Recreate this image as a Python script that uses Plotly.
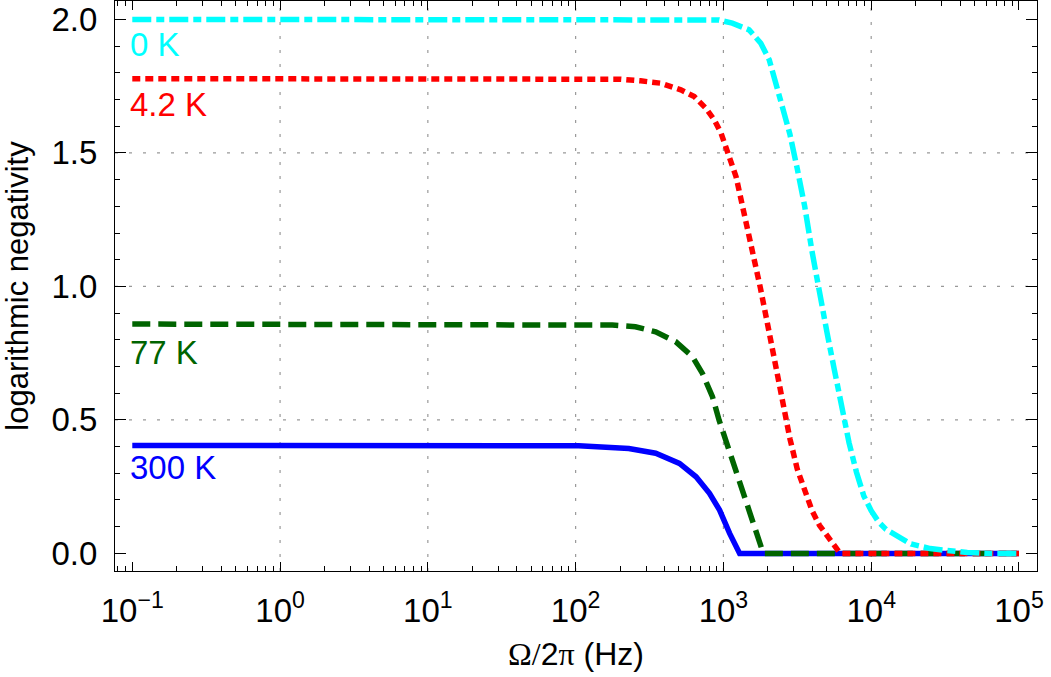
import plotly.graph_objects as go

# Logarithmic negativity vs. mechanical frequency, for four bath temperatures
# values

f_300K = [0.1, 1, 10, 50, 105, 229, 348, 504, 653, 805, 942, 1102, 1288, 100000]
ln_300K = [0.404, 0.404, 0.404, 0.404, 0.403, 0.393, 0.375, 0.337, 0.287, 0.225, 0.162, 0.075, 0.0, 0.0]

f_77K = [0.1, 1, 10, 60, 177, 254, 348, 475, 617, 721, 843, 935, 1094, 1279, 1493, 1746, 1862, 100000]
ln_77K = [0.859, 0.859, 0.859, 0.859, 0.855, 0.849, 0.830, 0.793, 0.737, 0.674, 0.587, 0.499, 0.387,
          0.275, 0.162, 0.050, 0.0, 0.0]

f_4K = [0.1, 1, 10, 100, 200, 275, 378, 515, 635, 762, 869, 964, 1042, 1127, 1219, 1318, 1585, 1778,
        1995, 2239, 2512, 2818, 3162, 3548, 3981, 4467, 5012, 5623, 6166, 100000]
ln_4K = [1.778, 1.778, 1.778, 1.778, 1.776, 1.770, 1.761, 1.736, 1.711, 1.667, 1.623, 1.574, 1.523,
         1.470, 1.410, 1.324, 1.130, 0.995, 0.855, 0.710, 0.565, 0.430, 0.315, 0.230, 0.160, 0.105,
         0.065, 0.033, 0.0, 0.0]

f_0K = [0.1, 1, 10, 100, 500, 933, 1148, 1493, 1791, 2042, 2512, 2818, 3162, 3548, 3981, 4467, 5012,
        5623, 6310, 7079, 7943, 8913, 10000, 11220, 12589, 14454, 18621, 25119, 31623, 44668, 63096,
        100000]
ln_0K = [2.0, 2.0, 2.0, 2.0, 2.0, 1.998, 1.986, 1.961, 1.911, 1.849, 1.670, 1.570, 1.440, 1.300,
         1.130, 0.970, 0.830, 0.690, 0.545, 0.415, 0.305, 0.215, 0.160, 0.118, 0.090, 0.069, 0.035,
         0.018, 0.010, 0.003, 0.0, 0.0]

labels = ["300 K", "77 K", "4.2 K", "0 K"]
label_y = [0.323, 0.754, 1.683, 1.905]
colors = ["#0000FF", "#006400", "#FF0000", "#00FFFF"]
dashes = ["solid", "18px,8px", "8px,5px", "19px,5px,8px,5px"]

x_ticks = [0.1, 1, 10, 100, 1000, 10000, 100000]
x_ticktext = ["10<sup>\u22121</sup>", "10<sup>0</sup>", "10<sup>1</sup>", "10<sup>2</sup>",
              "10<sup>3</sup>", "10<sup>4</sup>", "10<sup>5</sup>"]
x_minor = [k * 10.0 ** n for n in range(-2, 5) for k in range(2, 10)]
x_grid = [1, 10, 100, 1000, 10000]
y_ticks = [0.0, 0.5, 1.0, 1.5, 2.0]
y_ticktext = ["0.0", "0.5", "1.0", "1.5", "2.0"]
y_grid = [0.5, 1.0, 1.5]

FONT = "Liberation Sans, Arial, sans-serif"
SERIF = "Liberation Serif"

fig = go.Figure()
series = [(f_300K, ln_300K), (f_77K, ln_77K), (f_4K, ln_4K), (f_0K, ln_0K)]
for (fx, fy), name, c, d in zip(series, labels, colors, dashes):
    fig.add_trace(go.Scatter(x=fx, y=fy, mode="lines", name=name,
                             line=dict(color=c, width=5.5, dash=d)))

for name, yv, c in zip(labels, label_y, colors):
    fig.add_annotation(x=-1, y=yv, xref="x", yref="y", text=name, showarrow=False,
                       xanchor="left", yanchor="middle", xshift=-4,
                       font=dict(family=FONT, size=33, color=c))

# dotted grid only at the inner decades / inner half-units
for gx in x_grid:
    fig.add_shape(type="line", xref="x", yref="paper", x0=gx, x1=gx, y0=0, y1=1,
                  line=dict(color="#999999", width=1.2, dash="3px,11px"), layer="below")
for gy in y_grid:
    fig.add_shape(type="line", xref="paper", yref="y", x0=0, x1=1, y0=gy, y1=gy,
                  line=dict(color="#999999", width=1.2, dash="3px,11px"), layer="below")

fig.update_layout(
    width=1051, height=677,
    margin=dict(l=115, r=14, t=1, b=106),
    paper_bgcolor="white", plot_bgcolor="white",
    showlegend=False,
    font=dict(family=FONT, size=32, color="black"),
    xaxis=dict(
        type="log", range=[-1.117, 5.122], automargin=False,
        tickmode="array", tickvals=x_ticks, ticktext=x_ticktext,
        ticks="inside", ticklen=9, tickwidth=1, tickcolor="black",
        minor=dict(tickmode="array", tickvals=x_minor, ticks="inside", ticklen=5,
                   tickcolor="black", showgrid=False),
        showline=True, linecolor="black", linewidth=1, mirror="allticks",
        showgrid=False, zeroline=False,
        tickfont=dict(size=33), ticklabelstandoff=10,
        title=dict(text="<span style='font-family:" + SERIF + "'>\u03a9/</span>2"
                        "<span style='font-family:" + SERIF + "'>\u03c0</span> (Hz)",
                   font=dict(size=32), standoff=15),
    ),
    yaxis=dict(
        range=[-0.066, 2.069], automargin=False,
        tickmode="array", tickvals=y_ticks, ticktext=y_ticktext,
        ticks="inside", ticklen=11, tickwidth=1, tickcolor="black",
        minor=dict(dtick=0.1, ticks="inside", ticklen=5, tickcolor="black", showgrid=False),
        showline=True, linecolor="black", linewidth=1, mirror="allticks",
        showgrid=False, zeroline=False,
        tickfont=dict(size=33), ticklabelstandoff=10,
        title=dict(text="logarithmic negativity", font=dict(size=31), standoff=14),
    ),
)

# page has an 8px body margin by default; drop it so the figure sits at the window origin
fig.write_html("out.html", config={"displayModeBar": False},
               post_script="document.body.style.margin='0';")
